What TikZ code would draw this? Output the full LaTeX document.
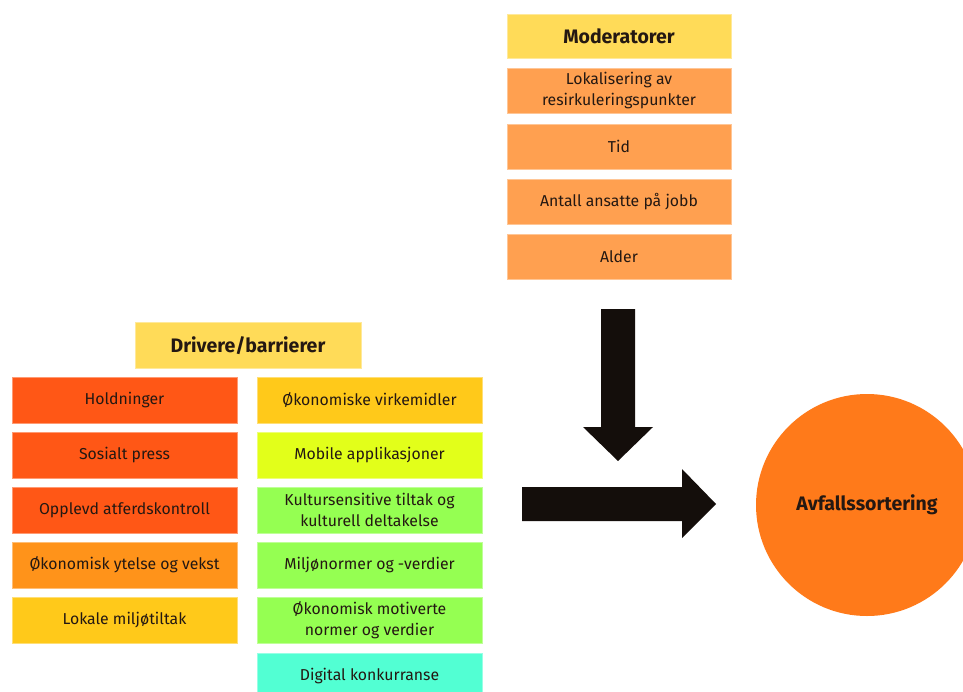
\documentclass[tikz,border=0pt]{standalone}
\usepackage{fontspec}
\setmainfont{Fira Sans}
\definecolor{txt}{HTML}{241812}
\definecolor{titlefill}{HTML}{FFDB58}
\definecolor{modfill}{HTML}{FFA050}
\definecolor{redorange}{HTML}{FF5716}
\definecolor{midorange}{HTML}{FF931A}
\definecolor{amber}{HTML}{FFC91A}
\definecolor{lime}{HTML}{E2FF1A}
\definecolor{lightgreen}{HTML}{95FF52}
\definecolor{aqua}{HTML}{52FFD3}
\definecolor{circlefill}{HTML}{FF7A1A}
\definecolor{arrowfill}{HTML}{140E0B}
\tikzset{
  box/.style={rectangle, inner sep=0pt, align=center, text=txt,
    minimum width=225pt, minimum height=46pt, line width=0.8pt,
    font=\fontsize{15.8}{21}\selectfont},
  titlebox/.style={box, fill=titlefill, draw=titlefill!60!white,
    font=\bfseries\fontsize{19.5}{22}\selectfont},
  modbox/.style={box, fill=modfill, draw=modfill!60!white, minimum width=224pt, minimum height=45pt},
  drvbox/.style={box, fill=#1, draw=#1!60!white},
  blockarrow/.style={fill=arrowfill, draw=none}
}
\begin{document}
\begin{tikzpicture}[x=1pt,y=-1pt]
\useasboundingbox[fill=white] (0,0) rectangle (963,691);

% Moderators column
\node[titlebox, minimum width=224pt, minimum height=44pt] (modtitle) at (619,36) {Moderatorer};
\node[modbox] (lok) at (619,91) {Lokalisering av\\resirkuleringspunkter};
\node[modbox] (tid) at (619,146.5) {Tid};
\node[modbox] (ans) at (619,201.5) {Antall ansatte på jobb};
\node[modbox] (alder) at (619,256.5) {Alder};

% Drivers and barriers
\node[titlebox, minimum width=226pt] (drvtitle) at (248,345.5) {Drivere/barrierer};

\node[drvbox=redorange] (hold) at (124.5,400) {Holdninger};
\node[drvbox=redorange] (sos) at (124.5,455) {Sosialt press};
\node[drvbox=redorange] (opp) at (124.5,510) {Opplevd atferdskontroll};
\node[drvbox=midorange] (oyv) at (124.5,565) {Økonomisk ytelse og vekst};
\node[drvbox=amber] (lokale) at (124.5,620.5) {Lokale miljøtiltak};

\node[drvbox=amber] (okv) at (369.5,400) {Økonomiske virkemidler};
\node[drvbox=lime] (mob) at (369.5,455) {Mobile applikasjoner};
\node[drvbox=lightgreen] (kult) at (369.5,510) {Kultursensitive tiltak og\\kulturell deltakelse};
\node[drvbox=lightgreen] (milj) at (369.5,565) {Miljønormer og -verdier};
\node[drvbox=lightgreen] (okm) at (369.5,620.5) {Økonomisk motiverte\\normer og verdier};
\node[drvbox=aqua] (dig) at (369.5,676) {Digital konkurranse};

% Outcome
\node[circle, fill=circlefill, minimum size=222pt, inner sep=0pt,
      font=\bfseries\fontsize{19.5}{22}\selectfont, text=txt] (avf) at (867,505) {Avfallssortering};

% Block arrows
\fill[blockarrow] (601,309) -- (635,309) -- (635,427) -- (653,427) -- (618,461)
  -- (583,427) -- (601,427) -- cycle;
\fill[blockarrow] (522,487) -- (682,487) -- (682,469) -- (716,504) -- (682,538)
  -- (682,521) -- (522,521) -- cycle;
\end{tikzpicture}
\end{document}
